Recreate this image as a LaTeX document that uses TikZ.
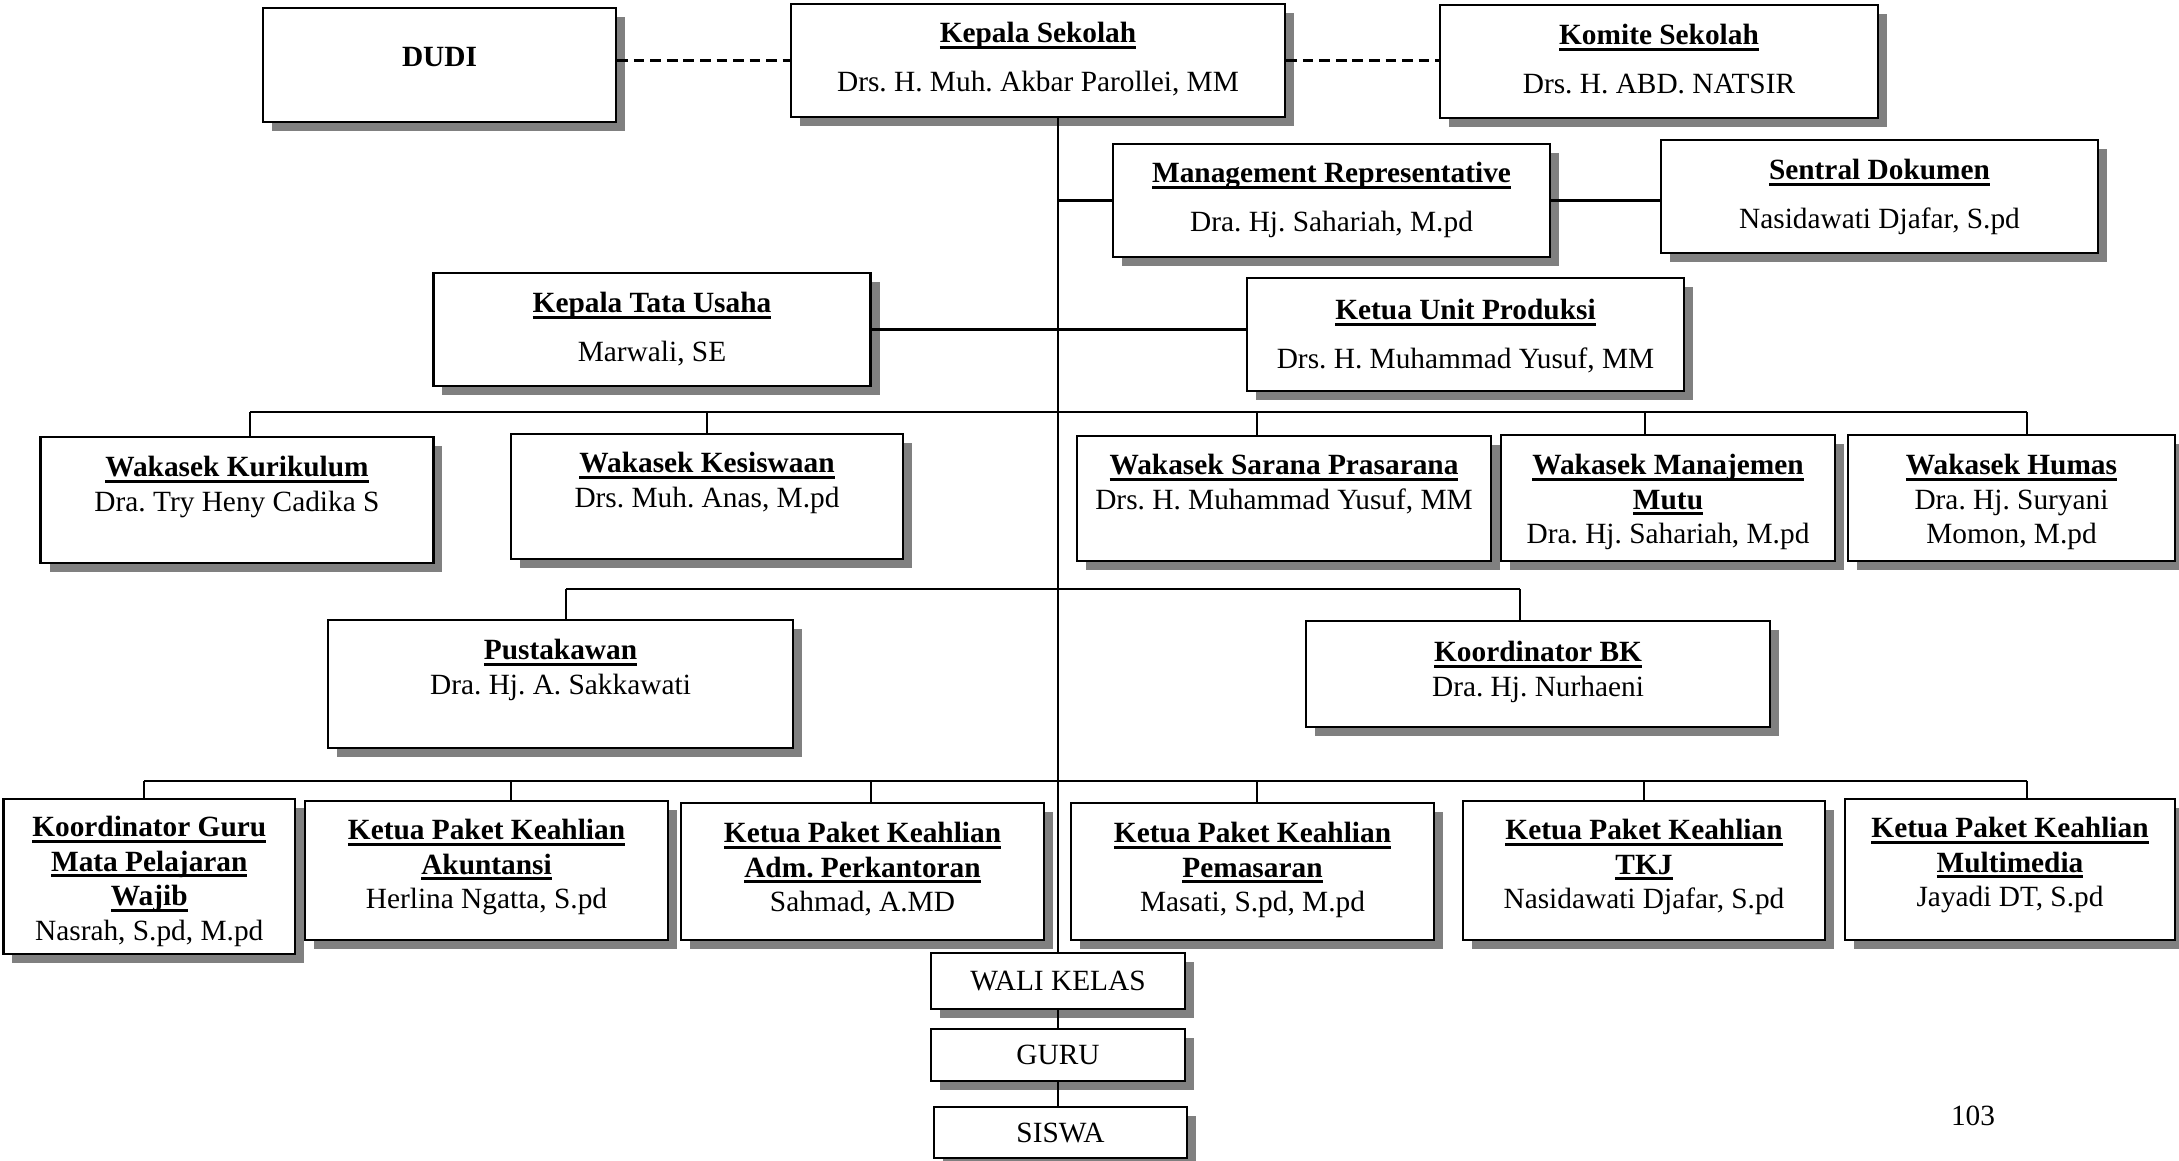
\documentclass[tikz,border=0pt]{standalone}
\usepackage{fontspec}
\setmainfont{Liberation Serif}
\usetikzlibrary{shadows}
\usetikzlibrary{positioning}

\newsavebox{\jabbox}
\newcommand{\jabatan}[1]{\sbox{\jabbox}{\textbf{#1}}\rlap{\rule[-1.7pt]{\wd\jabbox}{0.8pt}}\usebox{\jabbox}}

\tikzset{
  kotak/.style={draw, line width=0.8pt, fill=white, inner sep=0pt,
    drop shadow={shadow xshift=0.09cm, shadow yshift=-0.09cm, fill=black!50, opacity=1}},
  isi/.style={align=center, inner sep=0pt, font=\fontsize{8.35}{9.8}\selectfont},
  garis/.style={line width=0.7pt},
  putus/.style={line width=0.7pt, dash pattern=on 3pt off 1.7pt}
}

\begin{document}
\frenchspacing
\begin{tikzpicture}
\useasboundingbox (0,0) rectangle (21.79,-11.60);

%baris pimpinan
\node[kotak, minimum width=3.53cm, minimum height=1.14cm] (dudi) at (4.395,-0.65) {};
\node[isi, below=0.40cm of dudi.north] (dudi-t) {\textbf{DUDI}};
\node[kotak, minimum width=4.94cm, minimum height=1.13cm] (kasek) at (10.38,-0.605) {};
\node[isi, below=0.19cm of kasek.north] (kasek-t) {\jabatan{Kepala Sekolah}\\[4.1pt] Drs. H. Muh. Akbar Parollei, MM};
\node[kotak, minimum width=4.38cm, minimum height=1.13cm] (komite) at (16.59,-0.615) {};
\node[isi, below=0.20cm of komite.north] (komite-t) {\jabatan{Komite Sekolah}\\[4.1pt] Drs. H. ABD. NATSIR};

\node[kotak, minimum width=4.37cm, minimum height=1.13cm] (mr) at (13.315,-2.005) {};
\node[isi, below=0.19cm of mr.north] (mr-t) {\jabatan{Management Representative}\\[4.1pt] Dra. Hj. Sahariah, M.pd};
\node[kotak, minimum width=4.37cm, minimum height=1.13cm] (sentral) at (18.795,-1.965) {};
\node[isi, below=0.20cm of sentral.north] (sentral-t) {\jabatan{Sentral Dokumen}\\[4.1pt] Nasidawati Djafar, S.pd};

\node[kotak, minimum width=4.375cm, minimum height=1.13cm] (ktu) at (6.52,-3.295) {};
\node[isi, below=0.20cm of ktu.north] (ktu-t) {\jabatan{Kepala Tata Usaha}\\[4.1pt] Marwali, SE};
\node[kotak, minimum width=4.37cm, minimum height=1.13cm] (kup) at (14.655,-3.345) {};
\node[isi, below=0.22cm of kup.north] (kup-t) {\jabatan{Ketua Unit Produksi}\\[4.1pt] Drs. H. Muhammad Yusuf, MM};

%wakasek
\node[kotak, minimum width=3.925cm, minimum height=1.26cm] (wkur) at (2.37,-5.00) {};
\node[isi, below=0.20cm of wkur.north] (wkur-t) {\jabatan{Wakasek Kurikulum}\\ Dra. Try Heny Cadika S};
\node[kotak, minimum width=3.92cm, minimum height=1.25cm] (wkes) at (7.07,-4.965) {};
\node[isi, below=0.19cm of wkes.north] (wkes-t) {\jabatan{Wakasek Kesiswaan}\\ Drs. Muh. Anas, M.pd};
\node[kotak, minimum width=4.14cm, minimum height=1.25cm] (wsar) at (12.84,-4.985) {};
\node[isi, below=0.19cm of wsar.north] (wsar-t) {\jabatan{Wakasek Sarana Prasarana}\\ Drs. H. Muhammad Yusuf, MM};
\node[kotak, minimum width=3.34cm, minimum height=1.26cm] (wmut) at (16.68,-4.98) {};
\node[isi, below=0.20cm of wmut.north] (wmut-t) {\jabatan{Wakasek Manajemen}\\ \jabatan{Mutu}\\ Dra. Hj. Sahariah, M.pd};
\node[kotak, minimum width=3.27cm, minimum height=1.26cm] (whum) at (20.115,-4.98) {};
\node[isi, below=0.20cm of whum.north] (whum-t) {\jabatan{Wakasek Humas}\\ Dra. Hj. Suryani\\ Momon, M.pd};

\node[kotak, minimum width=4.65cm, minimum height=1.28cm] (pus) at (5.605,-6.84) {};
\node[isi, below=0.20cm of pus.north] (pus-t) {\jabatan{Pustakawan}\\ Dra. Hj. A. Sakkawati};
\node[kotak, minimum width=4.64cm, minimum height=1.06cm] (bk) at (15.38,-6.74) {};
\node[isi, below=0.21cm of bk.north] (bk-t) {\jabatan{Koordinator BK}\\ Dra. Hj. Nurhaeni};

%paket keahlian
\node[kotak, minimum width=2.915cm, minimum height=1.55cm] (kgur) at (1.4925,-8.765) {};
\node[isi, below=0.18cm of kgur.north] (kgur-t) {\jabatan{Koordinator Guru}\\ \jabatan{Mata Pelajaran}\\ \jabatan{Wajib}\\ Nasrah, S.pd, M.pd};
\node[kotak, minimum width=3.63cm, minimum height=1.39cm] (akt) at (4.865,-8.705) {};
\node[isi, below=0.19cm of akt.north] (akt-t) {\jabatan{Ketua Paket Keahlian}\\ \jabatan{Akuntansi}\\ Herlina Ngatta, S.pd};
\node[kotak, minimum width=3.63cm, minimum height=1.37cm] (adm) at (8.625,-8.715) {};
\node[isi, below=0.20cm of adm.north] (adm-t) {\jabatan{Ketua Paket Keahlian}\\ \jabatan{Adm. Perkantoran}\\ Sahmad, A.MD};
\node[kotak, minimum width=3.63cm, minimum height=1.37cm] (pem) at (12.525,-8.715) {};
\node[isi, below=0.20cm of pem.north] (pem-t) {\jabatan{Ketua Paket Keahlian}\\ \jabatan{Pemasaran}\\ Masati, S.pd, M.pd};
\node[kotak, minimum width=3.62cm, minimum height=1.39cm] (tkj) at (16.44,-8.705) {};
\node[isi, below=0.19cm of tkj.north] (tkj-t) {\jabatan{Ketua Paket Keahlian}\\ \jabatan{TKJ}\\ Nasidawati Djafar, S.pd};
\node[kotak, minimum width=3.30cm, minimum height=1.41cm] (mm) at (20.10,-8.695) {};
\node[isi, below=0.19cm of mm.north] (mm-t) {\jabatan{Ketua Paket Keahlian}\\ \jabatan{Multimedia}\\ Jayadi DT, S.pd};

\node[kotak, isi, minimum width=2.54cm, minimum height=0.56cm] (wali) at (10.58,-9.81) {WALI KELAS};
\node[kotak, isi, minimum width=2.54cm, minimum height=0.52cm] (guru) at (10.58,-10.55) {GURU};
\node[kotak, isi, minimum width=2.53cm, minimum height=0.51cm] (siswa) at (10.605,-11.325) {SISWA};

\node[isi] (hal) at (19.73,-11.16) {103};

%garis
\coordinate (batang) at (10.58,0);
\draw[putus] (dudi.east |- kasek.west) -- (kasek.west);
\draw[putus] (kasek.east) -- (kasek.east -| komite.west);
\draw[garis] (kasek.south -| batang) -- (wali.north);
\draw[garis] (mr.west -| batang) -- (mr.west);
\draw[garis] (mr.east) -- (mr.east -| sentral.west);
\draw[garis] (ktu.east) -- (ktu.east -| kup.west);

\coordinate (busA-l) at (2.50,-4.12);
\coordinate (busA-r) at (20.27,-4.12);
\draw[garis] (busA-l) -- (busA-r);
\draw[garis] (busA-l) -- (busA-l |- wkur.north);
\draw[garis] (wkes.north) -- (wkes.north |- busA-l);
\draw[garis] ([xshift=-0.27cm]wsar.north) -- ([xshift=-0.27cm]wsar.north |- busA-l);
\draw[garis] ([xshift=-0.23cm]wmut.north) -- ([xshift=-0.23cm]wmut.north |- busA-l);
\draw[garis] (busA-r) -- (busA-r |- whum.north);

\coordinate (busB-l) at (5.66,-5.89);
\coordinate (busB-r) at (15.20,-5.89);
\draw[garis] (busB-l) -- (busB-r);
\draw[garis] (busB-l) -- (busB-l |- pus.north);
\draw[garis] (busB-r) -- (busB-r |- bk.north);

\coordinate (busC-l) at (1.44,-7.81);
\coordinate (busC-r) at (20.27,-7.81);
\draw[garis] (busC-l) -- (busC-r);
\draw[garis] (busC-l) -- (busC-l |- kgur.north);
\draw[garis] ([xshift=0.245cm]akt.north) -- ([xshift=0.245cm]akt.north |- busC-l);
\draw[garis] ([xshift=0.085cm]adm.north) -- ([xshift=0.085cm]adm.north |- busC-l);
\draw[garis] ([xshift=0.045cm]pem.north) -- ([xshift=0.045cm]pem.north |- busC-l);
\draw[garis] (tkj.north) -- (tkj.north |- busC-l);
\draw[garis] (busC-r) -- (busC-r |- mm.north);

\draw[garis] (wali.south) -- (guru.north);
\draw[garis] (guru.south) -- (guru.south |- siswa.north);
\end{tikzpicture}
\end{document}
